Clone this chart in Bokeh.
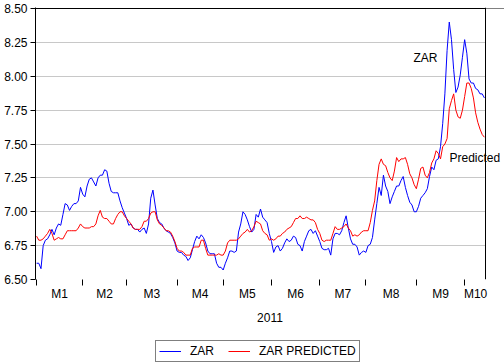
from bokeh.plotting import figure
from bokeh.layouts import column
from bokeh.models import (ColumnDataSource, Range1d, FixedTicker, Legend, LegendItem,
                          Label, PrintfTickFormatter, BoxAnnotation, Span)
from bokeh.embed import file_html
from bokeh.resources import INLINE

# ---- data (business-day observations, 2011) ----
zar = [6.62, 6.62, 6.58, 6.75, 6.79, 6.80, 6.83, 6.87, 6.83, 6.88,
       6.91, 6.90, 6.98, 7.06, 7.05, 7.01, 7.04, 7.06, 7.06, 7.08,
       7.18, 7.13, 7.11, 7.19, 7.24, 7.25, 7.22, 7.19, 7.25, 7.27,
       7.27, 7.31, 7.30, 7.21, 7.15, 7.14, 7.14, 7.14, 7.08, 7.03,
       6.99, 6.95, 6.90, 6.91, 6.88, 6.87, 6.87, 6.85, 6.87, 6.88,
       6.84, 6.91, 7.10, 7.16, 7.05, 6.95, 6.92, 6.91, 6.88, 6.86,
       6.85, 6.84, 6.81, 6.77, 6.71, 6.70, 6.70, 6.68, 6.67, 6.64,
       6.66, 6.72, 6.78, 6.82, 6.80, 6.83, 6.81, 6.77, 6.71, 6.69,
       6.69, 6.69, 6.62, 6.59, 6.59, 6.57, 6.62, 6.66, 6.71, 6.71,
       6.70, 6.71, 6.85, 6.91, 7.00, 6.98, 6.94, 6.89, 6.85, 6.87,
       6.98, 6.96, 7.02, 6.96, 6.94, 6.92, 6.84, 6.78, 6.70, 6.74,
       6.75, 6.71, 6.73, 6.77, 6.80, 6.78, 6.79, 6.82, 6.81, 6.76,
       6.75, 6.71, 6.78, 6.82, 6.86, 6.87, 6.84, 6.86, 6.82, 6.78,
       6.73, 6.72, 6.72, 6.73, 6.68, 6.80, 6.84, 6.84, 6.83, 6.86,
       6.92, 6.97, 6.88, 6.80, 6.76, 6.76, 6.74, 6.68, 6.70, 6.71,
       6.70, 6.75, 6.76, 6.81, 6.94, 7.06, 7.18, 7.12, 7.27, 7.19,
       7.15, 7.06, 7.11, 7.15, 7.19, 7.19, 7.23, 7.26, 7.18, 7.12,
       7.07, 7.05, 7.00, 7.00, 7.04, 7.10, 7.12, 7.14, 7.17, 7.26,
       7.33, 7.31, 7.38, 7.39, 7.48, 7.65, 7.87, 8.19, 8.40, 8.27,
       8.05, 7.88, 7.92, 8.01, 8.14, 8.27, 8.17, 7.98, 7.95, 7.95,
       7.91, 7.90, 7.87, 7.87, 7.84]

zar_predicted = [6.82, 6.79, 6.79, 6.80, 6.82, 6.84, 6.87, 6.84, 6.79, 6.80,
                 6.81, 6.80, 6.80, 6.83, 6.86, 6.86, 6.86, 6.86, 6.86, 6.88,
                 6.91, 6.89, 6.88, 6.88, 6.88, 6.89, 6.89, 6.91, 6.97, 7.01,
                 6.96, 6.95, 6.95, 6.93, 6.91, 6.91, 6.95, 6.98, 7.00, 7.00,
                 6.97, 6.95, 6.93, 6.91, 6.88, 6.87, 6.87, 6.87, 6.89, 6.93,
                 6.93, 6.95, 6.99, 7.00, 7.00, 6.94, 6.91, 6.90, 6.88, 6.86,
                 6.86, 6.85, 6.82, 6.78, 6.73, 6.71, 6.71, 6.70, 6.68, 6.68,
                 6.68, 6.73, 6.74, 6.74, 6.74, 6.79, 6.79, 6.73, 6.68, 6.68,
                 6.68, 6.68, 6.68, 6.69, 6.68, 6.68, 6.71, 6.77, 6.79, 6.79,
                 6.79, 6.79, 6.80, 6.82, 6.84, 6.85, 6.87, 6.85, 6.86, 6.89,
                 6.93, 6.92, 6.91, 6.86, 6.84, 6.83, 6.79, 6.80, 6.79, 6.80,
                 6.82, 6.82, 6.84, 6.85, 6.87, 6.88, 6.89, 6.92, 6.95, 6.95,
                 6.97, 6.95, 6.95, 6.96, 6.95, 6.94, 6.94, 6.92, 6.87, 6.84,
                 6.79, 6.78, 6.79, 6.79, 6.79, 6.84, 6.89, 6.87, 6.87, 6.88,
                 6.89, 6.91, 6.88, 6.86, 6.82, 6.83, 6.82, 6.83, 6.85, 6.86,
                 6.86, 6.86, 6.92, 7.01, 7.08, 7.23, 7.35, 7.39, 7.35, 7.34,
                 7.29, 7.25, 7.23, 7.30, 7.40, 7.37, 7.39, 7.39, 7.40, 7.35,
                 7.28, 7.25, 7.20, 7.17, 7.24, 7.32, 7.33, 7.27, 7.25, 7.29,
                 7.36, 7.39, 7.45, 7.43, 7.39, 7.48, 7.50, 7.54, 7.76, 7.82,
                 7.87, 7.75, 7.70, 7.69, 7.75, 7.85, 7.95, 7.95, 7.91, 7.84,
                 7.73, 7.66, 7.61, 7.57, 7.55]

month_starts = [0, 21, 41, 64, 85, 107, 129, 150, 173, 195]
month_labels = ["M1", "M2", "M3", "M4", "M5", "M6", "M7", "M8", "M9", "M10"]
y_ticks = [6.50, 6.75, 7.00, 7.25, 7.50, 7.75, 8.00, 8.25, 8.50]
year_label = "2011"
series_names = ["ZAR", "ZAR PREDICTED"]

obs = list(range(len(zar)))
n = len(zar)
ends = month_starts[1:] + [n]
mids = [(a + b) / 2 for a, b in zip(month_starts, ends)]

FONT = "Liberation Sans"

# layout (pixels)
W = 504
H_MAIN = 340
H_LEG = 23
LEFT = 35          # frame left
BOX_RIGHT = 485    # visible plot box right edge
TOP = 7            # frame top (box top line drawn 1px lower)
BOTTOM_PANEL = 61

x_start, x_stop = -0.5, n - 0.5
px_per_unit = (BOX_RIGHT - LEFT) / (x_stop - x_start)
x_end = x_stop + (W - BOX_RIGHT) / px_per_unit   # frame runs to canvas edge so labels are not cut

box_h = H_MAIN - TOP - BOTTOM_PANEL
y_lo, y_hi = y_ticks[0], y_ticks[-1]
y_top = y_hi + (y_hi - y_lo) / (box_h - 1)        # one pixel of room above the top line

src = ColumnDataSource(dict(x=obs, zar=zar, pred=zar_predicted))

p = figure(width=W, height=H_MAIN,
           x_range=Range1d(x_start, x_end), y_range=Range1d(y_lo, y_top),
           output_backend="svg", toolbar_location=None,
           min_border_left=LEFT, min_border_right=0, min_border_top=TOP,
           min_border_bottom=BOTTOM_PANEL)

p.outline_line_color = None
p.background_fill_color = "white"
p.border_fill_color = "white"

p.xgrid.visible = False
p.ygrid.grid_line_color = "#c8c8c8"
p.ygrid.grid_line_width = 1

# y axis
p.yaxis.ticker = FixedTicker(ticks=y_ticks)
p.yaxis.formatter = PrintfTickFormatter(format="%.2f")
p.yaxis.major_tick_out = 5
p.yaxis.major_tick_in = 0
p.yaxis.minor_tick_out = 0
p.yaxis.minor_tick_in = 0
p.yaxis.major_label_standoff = 3
p.yaxis.axis_line_color = "black"
p.yaxis.major_tick_line_color = "black"
p.yaxis.major_label_text_font = FONT
p.yaxis.major_label_text_font_size = "12px"
p.yaxis.major_label_text_color = "black"

# x axis: labels at month middles, tick marks at month boundaries
p.xaxis.ticker = FixedTicker(ticks=mids, minor_ticks=month_starts)
p.xaxis.major_label_overrides = {m: lab for m, lab in zip(mids, month_labels)}
p.xaxis.major_tick_out = 0
p.xaxis.major_tick_in = 0
p.xaxis.minor_tick_out = 6
p.xaxis.minor_tick_in = 0
p.xaxis.minor_tick_line_color = "black"
p.xaxis.axis_line_color = None
p.xaxis.major_label_standoff = 1
p.xaxis.major_label_text_font = FONT
p.xaxis.major_label_text_font_size = "12px"
p.xaxis.major_label_text_color = "black"
p.xaxis.axis_label = year_label
p.xaxis.axis_label_standoff = 9
p.xaxis.axis_label_text_font = FONT
p.xaxis.axis_label_text_font_size = "12px"
p.xaxis.axis_label_text_font_style = "normal"
p.xaxis.axis_label_text_color = "black"

# plot box: white mask right of the box, top line, right line
p.add_layout(BoxAnnotation(left=x_stop, fill_color="white", fill_alpha=1,
                           line_color=None, level="underlay"))
p.add_layout(Span(location=y_hi, dimension="width", line_color="black",
                  line_width=1, level="underlay"))
p.add_layout(BoxAnnotation(left=x_stop, bottom=y_hi, fill_color="white", fill_alpha=1,
                           line_color=None, level="underlay"))
p.add_layout(Span(location=x_stop, dimension="height", line_color="black",
                  line_width=1, level="underlay"))

r1 = p.line("x", "zar", source=src, line_color="#0000ff", line_width=1)
r2 = p.line("x", "pred", source=src, line_color="#ff0000", line_width=1)

p.add_layout(Label(x=171.7, y=8.138, text="ZAR", text_font=FONT, text_font_size="12px",
                   text_color="black", text_baseline="alphabetic"))
p.add_layout(Label(x=188.1, y=7.393, text="Predicted", text_font=FONT, text_font_size="12px",
                   text_color="black", text_baseline="alphabetic"))

# legend strip below (its series lie outside this strip's ranges, only the key shows)
q = figure(width=W, height=H_LEG, x_range=Range1d(0, 1), y_range=Range1d(0, 1),
           output_backend="svg", toolbar_location=None, min_border=0,
           x_axis_location=None, y_axis_location=None)
q.outline_line_color = None
q.grid.visible = False
q.border_fill_color = "white"
lr1 = q.line("x", "zar", source=src, line_color="#0000ff", line_width=1)
lr2 = q.line("x", "pred", source=src, line_color="#ff0000", line_width=1)
legend = Legend(items=[LegendItem(label=series_names[0], renderers=[lr1]),
                       LegendItem(label=series_names[1], renderers=[lr2])],
                orientation="horizontal", location=(120, 1),
                glyph_width=22, glyph_height=14, label_height=14,
                label_standoff=9, spacing=14, padding=3, margin=0,
                border_line_color="black", border_line_width=1,
                background_fill_color="white", background_fill_alpha=1,
                label_text_font=FONT, label_text_font_size="12px",
                label_text_color="black")
q.add_layout(legend)

layout = column(p, q, spacing=0)
open("out.html", "w").write(file_html(layout, INLINE))
